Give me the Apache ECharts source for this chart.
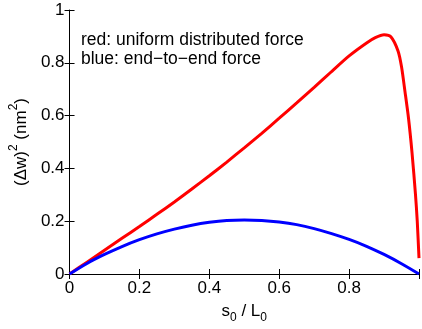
<!DOCTYPE html>
<html><head><meta charset="utf-8">
<script src="https://cdn.jsdelivr.net/npm/echarts@6/dist/echarts.min.js"></script>
<style>html,body{margin:0;padding:0;background:#fff}#c{width:422px;height:329px}</style>
</head><body><div id="c"></div>
<script>
var redX = [0,0.05,0.1,0.15,0.2,0.25,0.3,0.35,0.4,0.45,0.5,0.55,0.6,0.65,0.7,0.75,0.8,0.85,0.875,0.9,0.92,0.94,0.95,0.96,0.97,0.98,0.99,0.995,1.0];
var redY = [0,0.045,0.090,0.135,0.180,0.226,0.273,0.322,0.372,0.424,0.478,0.533,0.590,0.648,0.707,0.767,0.826,0.875,0.895,0.906,0.898,0.845,0.785,0.69,0.59,0.46,0.30,0.20,0.06];
var blueX = [0,0.05,0.1,0.15,0.2,0.25,0.3,0.35,0.4,0.45,0.5,0.55,0.6,0.65,0.7,0.75,0.8,0.85,0.9,0.95,1.0];
var blueY = [0,0.040,0.074,0.104,0.130,0.152,0.170,0.185,0.196,0.203,0.205,0.203,0.197,0.187,0.172,0.153,0.131,0.105,0.074,0.039,0];
var xTicks = ['0','0.2','0.4','0.6','0.8',''];
var yTicks = ['0','0.2','0.4','0.6','0.8','1'];
var legendLines = ['red: uniform distributed force','blue: end\u2212to\u2212end force'];

function pairs(xs, ys){ return xs.map(function(x,i){return [x, ys[i]];}); }
var FONT = 'Liberation Sans, Arial, sans-serif';
var chart = echarts.init(document.getElementById('c'), null, {renderer:'canvas'});
var axisLine = {show:true, lineStyle:{color:'#000', width:1}};
var tick = {show:true, inside:true, length:5, lineStyle:{color:'#000'}};
chart.setOption({
  animation:false,
  grid:{left:68, right:0, top:10, bottom:50, containLabel:false},
  xAxis:[{
    type:'value', min:0, max:1, interval:0.2, position:'bottom',
    axisLine:axisLine, axisTick:tick, splitLine:{show:false},
    axisLabel:{color:'#000', fontFamily:FONT, fontSize:17, margin:6,
      formatter:function(v){ return xTicks[Math.round(v/0.2)]; }},
    name:'{m|s}{s|0}{m| / L}{s|0}', nameLocation:'middle', nameGap:29,
    nameTextStyle:{rich:{
      m:{fontFamily:FONT, fontSize:17, color:'#000', verticalAlign:'top', lineHeight:17},
      s:{fontFamily:FONT, fontSize:12, color:'#000', verticalAlign:'top', lineHeight:12, padding:[9,0,0,0]}
    }}
  },{
    type:'value', min:0, max:1, interval:0.2, position:'top',
    axisLine:axisLine, axisTick:tick, axisLabel:{show:false}, splitLine:{show:false}
  }],
  yAxis:[{
    type:'value', min:0, max:1, interval:0.2, position:'left',
    axisLine:axisLine, axisTick:tick, splitLine:{show:false},
    axisLabel:{color:'#000', fontFamily:FONT, fontSize:17, margin:5,
      formatter:function(v){ return yTicks[Math.round(v/0.2)]; }},
    name:'{m|(\u0394w)}{p|2}{m| (nm}{p|2}{m|)}', nameLocation:'middle', nameGap:38, nameRotate:90,
    nameTextStyle:{rich:{
      m:{fontFamily:FONT, fontSize:17, color:'#000', verticalAlign:'top', lineHeight:21, padding:[5,0,0,0]},
      p:{fontFamily:FONT, fontSize:12, color:'#000', verticalAlign:'top', lineHeight:12}
    }}
  },{
    type:'value', min:0, max:1, interval:0.2, position:'right',
    axisLine:{show:false}, axisTick:tick, axisLabel:{show:false}, splitLine:{show:false}
  }],
  series:[
    {type:'line', data:pairs(redX, redY), smooth:0.25, symbol:'none', lineStyle:{color:'#ff0000', width:3}, itemStyle:{color:'#ff0000'}},
    {type:'line', data:pairs(blueX, blueY), smooth:0.3, symbol:'none', lineStyle:{color:'#0000ff', width:3}, itemStyle:{color:'#0000ff'}}
  ],
  graphic:[
    {type:'text', left:81, top:30, style:{text:legendLines.join('\n'), font:'17.5px '+FONT, fill:'#000', lineHeight:19.5}}
  ]
});
</script></body></html>
